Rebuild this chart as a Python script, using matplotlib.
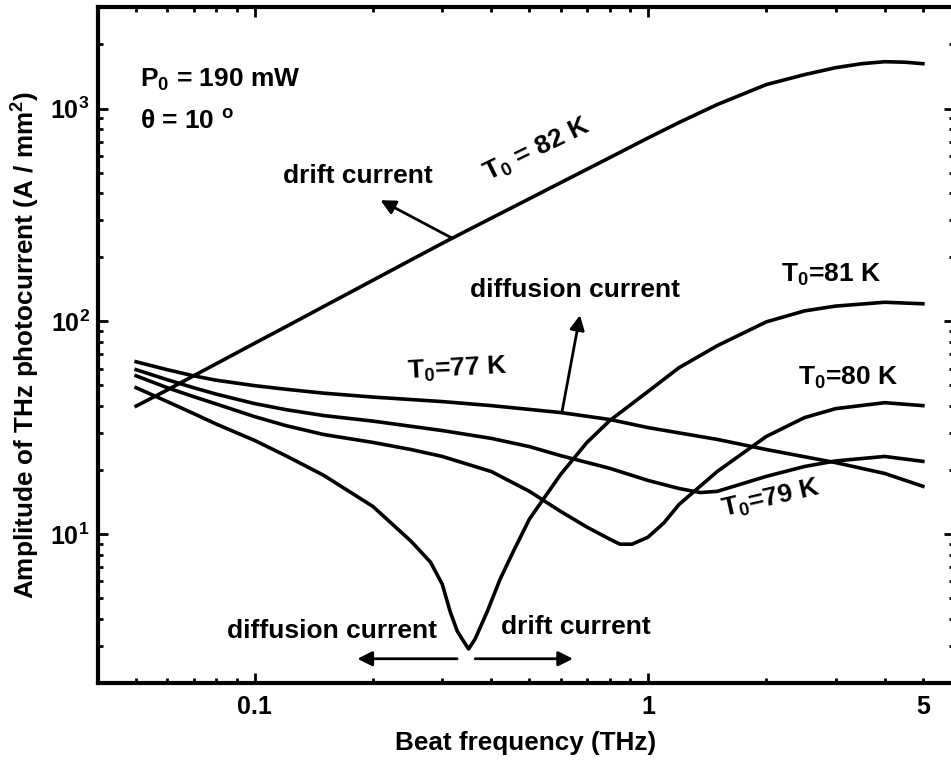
import math
import matplotlib
matplotlib.use("Agg")
import matplotlib.pyplot as plt
from matplotlib.ticker import FixedLocator, FuncFormatter, NullFormatter

plt.rcParams['font.family'] = ['Liberation Sans', 'DejaVu Sans']
plt.rcParams['font.weight'] = 'bold'
plt.rcParams['mathtext.fontset'] = 'custom'
plt.rcParams['mathtext.rm'] = 'Liberation Sans:bold'
plt.rcParams['mathtext.bf'] = 'Liberation Sans:bold'
plt.rcParams['mathtext.it'] = 'Liberation Sans:bold'
plt.rcParams['mathtext.default'] = 'rm'

# beat frequency (THz) and photocurrent amplitude (A/mm^2) per lattice temperature
f_82 = [0.05, 0.06, 0.07, 0.08, 0.1, 0.12, 0.15, 0.2, 0.25, 0.3, 0.35, 0.4, 0.5,
        0.6, 0.7, 0.8, 1, 1.2, 1.5, 2, 2.5, 3, 3.5, 4, 4.5, 5]
a_82 = [40.0, 47.6, 55.5, 63.3, 78.9, 94.3, 117.6, 156.1, 194.5, 232.6, 269.4, 305.6, 377.2,
        448.3, 518.6, 588.3, 727, 860, 1044, 1296, 1443, 1556, 1625, 1660, 1651, 1625]

f_77 = [0.05, 0.06, 0.07, 0.08, 0.1, 0.12, 0.15, 0.2, 0.3, 0.4, 0.6, 0.8, 1,
        1.5, 2, 3, 4, 5]
a_77 = [64.6, 59.3, 55.5, 52.9, 49.9, 48.0, 46.0, 44.1, 42.0, 40.2, 37.3, 34.6, 31.7,
        27.9, 25.0, 21.7, 19.3, 16.8]

f_79 = [0.05, 0.06, 0.07, 0.08, 0.1, 0.12, 0.15, 0.2, 0.3, 0.4, 0.5, 0.6, 0.8, 1,
        1.2, 1.36, 1.5, 2, 2.5, 3, 4, 5]
a_79 = [59.3, 53.2, 48.8, 45.5, 41.1, 38.5, 36.1, 34.0, 30.7, 28.2, 25.8, 23.4, 20.4, 17.9,
        16.4, 15.7, 15.9, 18.7, 20.8, 22.1, 23.2, 22.0]

f_80 = [0.05, 0.06, 0.07, 0.08, 0.1, 0.12, 0.15, 0.2, 0.25, 0.3, 0.4, 0.5, 0.6, 0.7,
        0.8, 0.849, 0.911, 1, 1.098, 1.2, 1.5, 2, 2.5, 3, 4, 5]
a_80 = [55.5, 48.8, 44.3, 40.9, 35.7, 32.4, 29.4, 27.0, 25.0, 23.2, 19.7, 15.9, 12.8, 10.8,
        9.48, 8.98, 8.98, 9.68, 11.3, 13.8, 19.7, 28.8, 35.3, 38.9, 41.5, 40.2]

f_81 = [0.05, 0.06, 0.07, 0.08, 0.1, 0.12, 0.15, 0.2, 0.25, 0.28, 0.3, 0.3145, 0.3275,
        0.337, 0.35, 0.3637, 0.39, 0.421, 0.454, 0.5, 0.6, 0.7, 0.8, 1, 1.2, 1.5,
        2, 2.5, 3, 4, 5]
a_81 = [48.8, 42.0, 36.9, 32.9, 27.6, 23.4, 18.9, 13.5, 9.27, 7.40, 5.83, 4.31, 3.51,
        3.22, 2.89, 3.22, 4.31, 6.15, 8.24, 11.8, 19.1, 27.0, 34.2, 46.8, 60.6, 76.8,
        99.5, 112, 118, 123, 121]

fig = plt.figure(figsize=(9.51, 7.63), dpi=100)
ax = fig.add_axes([98 / 951, 80 / 763, 856 / 951, 676 / 763])

for f, a in [(f_82, a_82), (f_77, a_77), (f_79, a_79), (f_80, a_80), (f_81, a_81)]:
    ax.plot(f, a, color='black', lw=2.6, solid_joinstyle='round')

ax.set_xscale('log')
ax.set_yscale('log')
ax.set_xlim(0.04, 6)
ax.set_ylim(2, 3000)

ax.xaxis.set_major_locator(FixedLocator([0.1, 1]))
ax.xaxis.set_major_formatter(FuncFormatter(lambda v, p: '%g' % v))
ax.xaxis.set_minor_locator(FixedLocator([0.05, 0.06, 0.07, 0.08, 0.09,
                                         0.2, 0.3, 0.4, 0.5, 0.6, 0.7, 0.8, 0.9,
                                         2, 3, 4, 5]))
ax.xaxis.set_minor_formatter(FuncFormatter(lambda v, p: '5' if abs(v - 5) < 1e-6 else ''))

ax.yaxis.set_major_locator(FixedLocator([10, 100, 1000]))
ax.yaxis.set_major_formatter(FuncFormatter(lambda v, p: r'$10^{%d}$' % round(math.log10(v))))
ax.yaxis.set_minor_locator(FixedLocator([m * d for d in (1, 10, 100, 1000) for m in range(2, 10)
                                         if 2 <= m * d <= 3000]))
ax.yaxis.set_minor_formatter(NullFormatter())

ax.tick_params(which='both', direction='in', top=True, right=True, width=2, colors='black',
               labelsize=18)
ax.tick_params(which='major', length=7)
ax.tick_params(which='minor', length=3.5)
ax.tick_params(axis='x', which='both', pad=9)
ax.tick_params(axis='y', which='both', pad=6)
for s in ax.spines.values():
    s.set_linewidth(3)

ax.set_xlabel('Beat frequency (THz)', fontsize=18.8, fontweight='bold', labelpad=8)
ax.set_ylabel('Amplitude of THz photocurrent (A / mm$^2$)', fontsize=18.8,
              fontweight='bold', labelpad=6)

tsize = 19
ax.text(0.049, 0.892, 'P$_0$ = 190 mW', transform=ax.transAxes, fontsize=19, va='center')
ax.text(0.049, 0.830, r'$\theta$ = 10 $^{\rm o}$', transform=ax.transAxes, fontsize=19, va='center')

ax.text(0.523, 635, 'T$_0$ = 82 K', fontsize=tsize, rotation=26, ha='center', va='center')
ax.text(2.93, 165, 'T$_0$=81 K', fontsize=tsize, ha='center', va='center')
ax.text(3.22, 54.3, 'T$_0$=80 K', fontsize=tsize, ha='center', va='center')
ax.text(0.327, 59.3, 'T$_0$=77 K', fontsize=tsize, rotation=3, ha='center', va='center')
ax.text(2.05, 14.6, 'T$_0$=79 K', fontsize=tsize, rotation=13, ha='center', va='center')

arrow = dict(arrowstyle='-|>', color='black', lw=2, mutation_scale=22, shrinkA=0, shrinkB=0)
ax.text(0.1826, 480, 'drift current', fontsize=tsize, ha='center', va='center')
ax.annotate('', xy=(0.209, 371), xytext=(0.318, 246), arrowprops=arrow)
ax.text(0.653, 140, 'diffusion current', fontsize=tsize, ha='center', va='center')
ax.annotate('', xy=(0.672, 107), xytext=(0.605, 37.7), arrowprops=arrow)
ax.text(0.157, 3.51, 'diffusion current', fontsize=tsize, ha='center', va='center')
ax.annotate('', xy=(0.1826, 2.6), xytext=(0.3274, 2.6), arrowprops=arrow)
ax.text(0.657, 3.67, 'drift current', fontsize=tsize, ha='center', va='center')
ax.annotate('', xy=(0.645, 2.6), xytext=(0.364, 2.6), arrowprops=arrow)

fig.savefig('out.png', dpi=100)
